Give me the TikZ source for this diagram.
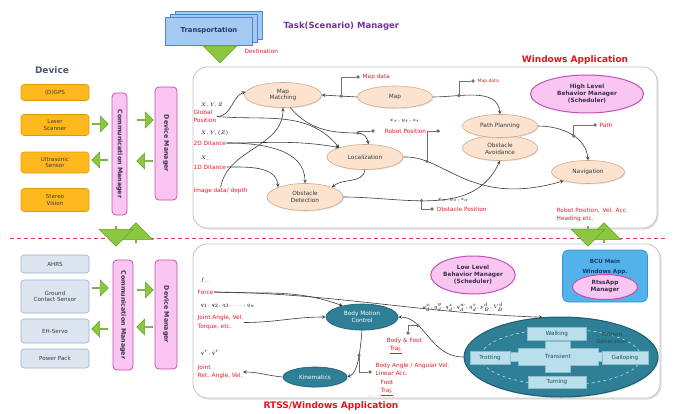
\documentclass[tikz,border=0pt]{standalone}
\usepackage{fontspec}
\setmainfont{DejaVu Sans}
\usepackage{tikz}
\usetikzlibrary{shapes,arrows,shadows}
\definecolor{lblred}{HTML}{E8192C}
\definecolor{apptitle}{HTML}{E3121C}
\definecolor{taskpurple}{HTML}{7030A0}
\definecolor{devtitle}{HTML}{4B5A70}
\definecolor{peachfill}{HTML}{FBE3D0}
\definecolor{peachline}{HTML}{D2A98A}
\definecolor{pinkfill}{HTML}{F8C6F0}
\definecolor{pinkline}{HTML}{C64FB4}
\definecolor{tealfill}{HTML}{2F7F97}
\definecolor{tealline}{HTML}{1E5E70}
\definecolor{orfill}{HTML}{FFB91E}
\definecolor{orline}{HTML}{E39A00}
\definecolor{lwfill}{HTML}{DCE5F0}
\definecolor{lwline}{HTML}{9AB1CE}
\definecolor{gaitfill}{HTML}{B9DFEA}
\definecolor{gaitline}{HTML}{86BFD0}
\definecolor{gaittext}{HTML}{1F4E5F}
\definecolor{bcufill}{HTML}{52B2EA}
\definecolor{bculine}{HTML}{3A8FCF}
\definecolor{grfill}{HTML}{8DC63F}
\definecolor{grline}{HTML}{62A32B}
\definecolor{docfill}{HTML}{A6C9F1}
\definecolor{docline}{HTML}{4F86D0}
\definecolor{doctext}{HTML}{1F3864}
\definecolor{nodetext}{HTML}{3A3A3A}
\definecolor{schedtext}{HTML}{3A2F4A}
\definecolor{linegray}{HTML}{3C3C3C}
\definecolor{dotgray}{HTML}{707070}
\definecolor{panelline}{HTML}{C4C4C4}
\newcommand{\fsz}[2]{\fontsize{#1}{#2}\selectfont}
\tikzset{
  panel/.style={draw=panelline, fill=white, rounded corners=14pt, line width=0.8pt,
    drop shadow={opacity=0.25, shadow xshift=1.5pt, shadow yshift=-1.5pt}},
  proc/.style={ellipse, draw=peachline, fill=peachfill, line width=0.6pt, inner sep=0pt,
    align=center, text=nodetext, font=\fsz{5.8}{6.8},
    drop shadow={opacity=0.2, shadow xshift=1pt, shadow yshift=-1pt}},
  tproc/.style={ellipse, draw=tealline, fill=tealfill, line width=0.6pt, inner sep=0pt,
    align=center, text=white, font=\fsz{5.8}{6.8},
    drop shadow={opacity=0.2, shadow xshift=1pt, shadow yshift=-1pt}},
  sched/.style={ellipse, draw=pinkline, fill=pinkfill, line width=1pt, inner sep=0pt,
    align=center, text=schedtext, font=\bfseries\fsz{5.8}{7}},
  hwbox/.style={rectangle, rounded corners=3pt, draw=orline, fill=orfill, line width=0.6pt,
    minimum width=68pt, inner sep=0pt, align=center, text=nodetext, font=\fsz{5.6}{6.8}},
  lwbox/.style={hwbox, draw=lwline, fill=lwfill},
  mgrbar/.style={rectangle, rounded corners=4pt, draw=pinkline, fill=pinkfill, line width=0.8pt,
    rotate=-90, inner sep=0pt, text=schedtext, font=\bfseries\fsz{6.3}{7}},
  docbox/.style={rectangle, draw=docline, fill=docfill, minimum width=87pt, minimum height=28pt,
    text=doctext, font=\bfseries\fsz{6.8}{8}},
  bcubox/.style={rectangle, rounded corners=6pt, draw=bculine, fill=bcufill, line width=0.6pt},
  pgell/.style={ellipse, draw=tealline, fill=tealfill, line width=1pt,
    drop shadow={opacity=0.25, shadow xshift=1pt, shadow yshift=-1pt}},
  pgdash/.style={draw=gaitfill, dashed, line width=0.6pt},
  gaitbox/.style={rectangle, draw=gaitline, fill=gaitfill, line width=0.6pt, inner sep=0pt,
    text=gaittext, font=\fsz{5.6}{6}},
  garrow/.style={single arrow, draw=grline, fill=grfill, line width=0.5pt, inner sep=0pt,
    minimum height=16pt, minimum width=16pt, single arrow head extend=3pt},
  biggarrow/.style={garrow, minimum height=20pt, minimum width=34pt, single arrow head extend=8pt},
  lbl/.style={text=lblred, font=\fsz{5.8}{8.5}, inner sep=0.5pt, align=left},
  mth/.style={font=\fsz{5.5}{6}, inner sep=0.5pt},
  tapdot/.style={circle, fill=dotgray, inner sep=0pt, minimum size=3.6pt},
  arr/.style={draw=linegray, line width=0.6pt, ->, >=stealth},
  tap/.style={draw=dotgray, line width=0.6pt},
  reddash/.style={draw=lblred!85, dashed, dash pattern=on 4pt off 3pt, line width=1pt}
}

\begin{document}
\begin{tikzpicture}[x=1pt,y=1pt]
\useasboundingbox (0,0) rectangle (674,413);

% task manager
\node[docbox] (trans3) at (219,388) {};
\node[docbox] (trans2) at (214,385) {};
\node[docbox] (trans) at (209,382) {Transportation};
\node[font=\bfseries\fsz{8.5}{10}, text=taskpurple, anchor=west] (tasktitle) at (280,387) {Task(Scenario) Manager};
\node[biggarrow, minimum height=17pt, shape border rotate=270] (destarr) at (220,359) {};
\node[lbl, anchor=west] (dest) at (244,362) {Destination};

% titles
\node[font=\bfseries\fsz{9}{10}, text=devtitle] (devtitle) at (52,343) {Device};
\node[font=\bfseries\fsz{9}{10}, text=apptitle] (wintitle) at (575,353) {Windows Application};
\node[font=\bfseries\fsz{9}{10}, text=apptitle] (rtsstitle) at (331,7) {RTSS/Windows Application};

% panels and border
\draw[panel] (193,185) rectangle (657,346);
\draw[panel] (193,15) rectangle (660,169);
\draw[reddash] (10,175) -- (666,175);

% upper devices
\node[hwbox, minimum height=16pt] (gps) at (55,320.5) {(D)GPS};
\node[hwbox, minimum height=21pt] (laser) at (55,288) {Laser\\Scanner};
\node[hwbox, minimum height=21pt] (sonic) at (55,250.5) {Ultrasonic\\Sensor};
\node[hwbox, minimum height=23pt] (stereo) at (55,213) {Stereo\\Vision};
\node[mgrbar, minimum width=122pt, minimum height=15pt] (comm1) at (119.5,259) {Communication Manager};
\node[mgrbar, minimum width=113pt, minimum height=22pt] (devm1) at (166,269.5) {Device Manager};
\node[garrow] (ga1) at (100,289) {};
\node[garrow, shape border rotate=180] (ga2) at (100,253) {};
\node[garrow] (ga3) at (145,293) {};
\node[garrow, shape border rotate=180] (ga4) at (145,252) {};

% lower devices
\node[lwbox, minimum height=18pt] (ahrs) at (55,149) {AHRS};
\node[lwbox, minimum height=33pt] (gcs) at (55,116.5) {Ground\\Contact Sensor};
\node[lwbox, minimum height=24pt] (servo) at (55,82) {EH-Servo};
\node[lwbox, minimum height=19pt] (power) at (55,54.5) {Power Pack};
\node[mgrbar, minimum width=110pt, minimum height=20pt] (comm2) at (123,98) {Communication Manager};
\node[mgrbar, minimum width=109pt, minimum height=22pt] (devm2) at (166,98.5) {Device Manager};
\node[garrow] (ga5) at (100,125) {};
\node[garrow, shape border rotate=180] (ga6) at (100,84) {};
\node[garrow] (ga7) at (145,123) {};
\node[garrow, shape border rotate=180] (ga8) at (145,86) {};

% links across the border
\node[biggarrow, shape border rotate=90] (gup1) at (136,180) {};
\node[biggarrow, shape border rotate=270] (gdn1) at (116,177) {};
\node[biggarrow, shape border rotate=90] (gup2) at (604,180) {};
\node[biggarrow, shape border rotate=270] (gdn2) at (588,177) {};

% windows application
\node[proc, minimum width=75pt, minimum height=25pt] (oa) at (500,265) {\\Obstacle\\Avoidance};
\node[proc, minimum width=75pt, minimum height=23pt] (pp) at (500,287) {Path Planning};
\node[proc, minimum width=77pt, minimum height=25pt] (mm) at (283,318) {Map\\Matching};
\node[proc, minimum width=75pt, minimum height=22pt] (mapn) at (395,316) {Map};
\node[proc, minimum width=76pt, minimum height=25pt] (loc) at (365,256) {Localization};
\node[proc, minimum width=76pt, minimum height=27pt] (od) at (305,216) {Obstacle\\Detection};
\node[proc, minimum width=73pt, minimum height=23pt] (nav) at (588,241) {Navigation};
\node[sched, minimum width=113pt, minimum height=38pt] (hlbm) at (587,319) {High Level\\Behavior Manager\\(Scheduler)};

\node[tapdot] (md1dot) at (358,336) {};
\node[lbl, anchor=west] (md1) at (362,336) {Map data};
\node[tapdot] (md2dot) at (473,332) {};
\node[lbl, anchor=west, font=\fsz{4.5}{5}] (md2) at (477,332) {Map data};
\node[tapdot] (pathdot) at (595,288) {};
\node[lbl, anchor=west] (path) at (599,288) {Path};
\node[tapdot] (rp1dot) at (373,282) {};
\node[tapdot] (rp2dot) at (438,282) {};
\node[lbl] (rp) at (405.5,282) {Robot Position};
\node[mth] (rpm) at (405,292) {$x_r,y_r,z_r$};
\node[tapdot] (opdot) at (432,204) {};
\node[lbl, anchor=west] (op) at (436,204) {Obstacle Position};
\node[mth] (opm) at (453,213) {$x_o,y_o,z_o$};

\node[mth, anchor=west] (gpm) at (200,308) {$X,Y,Z$};
\node[lbl, anchor=west] (gp) at (193,296.5) {Global\\Position};
\node[mth, anchor=west] (d2m) at (200,280) {$X,Y,(Z)$};
\node[lbl, anchor=west] (d2) at (193,270) {2D Ditance};
\node[mth, anchor=west] (d1m) at (200,255) {$X_{\dots}$};
\node[lbl, anchor=west] (d1) at (193,246) {1D Ditance};
\node[lbl, anchor=west] (img) at (193,222) {Image data/ depth};
\node[lbl, anchor=west] (rpv) at (556,198) {Robot Position,\enspace Vel. Acc\\Heading etc.};

\draw[arr] (mapn.west) -- coordinate[pos=0.45] (jmd1) (mm.east);
\draw[tap] (jmd1) |- (md1dot.west);
\draw[arr] (mapn.east) to[out=0,in=95] coordinate[pos=0.3] (jmd2) (pp.north);
\draw[tap] (jmd2) |- (md2dot.west);
\draw[arr] (pp.east) to[out=0,in=95] coordinate[pos=0.55] (jpath) (nav.north);
\draw[tap] (jpath) |- (pathdot.west);
\coordinate (jrp) at (358,280);
\draw[arr] (mm.-60) to[out=-50,in=180] (jrp) to[out=0,in=100] (loc.75);
\draw[tap] (jrp) |- (rp1dot.west);
\draw[arr] (loc.east) .. controls (445,258) and (470,205) .. (nav.200) coordinate[pos=0.2] (jloc);
\draw[tap] (rp2dot.east) -| (jloc);
\draw[arr] (od.east) to[out=0,in=-115] coordinate[pos=0.42] (jod) (oa.south);
\draw[tap] (jod) |- (opdot.west);
\draw[arr] (gp.east) to[out=0,in=-160] (mm.175);
\draw[arr] (gp.east) to[out=-5,in=130] (loc.160);
\draw[arr] (d2.east) to[out=0,in=170] (loc.160);
\draw[arr] (d2.east) to[out=0,in=90] (od.north);
\draw[arr] (d1.east) to[out=0,in=95] (od.160);
\draw[arr] (img.north) to[out=80,in=-90] (mm.south);
\draw[arr] (loc.south) to[out=-100,in=40] (od.20);
\foreach \j in {jmd1,jmd2,jpath,jrp,jloc,jod}
  \fill[dotgray] (\j) circle (1.8pt);

% rtss application
\node[sched, minimum width=82pt, minimum height=38pt] (llbm) at (473,138) {Low Level\\Behavior Manager\\(Scheduler)};
\node[bcubox, minimum width=85pt, minimum height=52pt] (bcu) at (605,137) {};
\node[font=\bfseries\fsz{5.6}{9.5}, text=doctext, align=center] (bcutitle) at (605,146) {BCU Main\\Windows App.};
\node[sched, minimum width=65pt, minimum height=25pt] (rtss) at (605,126) {RtssApp\\Manager};

\node[pgell, minimum width=194pt, minimum height=80pt] (pg) at (561,56) {};
\draw[pgdash] (pg.center) ellipse (80pt and 28pt);
\draw[draw=gaitline, fill=gaitfill, line width=0.6pt] (508,52) -- (518,52) -- (518,48) -- (545,48) -- (545,41)
  -- (570,41) -- (570,48) -- (598,48) -- (598,52) -- (602,52) -- (602,61) -- (598,61) -- (598,65)
  -- (570,65) -- (570,72) -- (545,72) -- (545,65) -- (518,65) -- (518,61) -- (508,61) -- cycle;
\node[font=\fsz{5.6}{6}, text=gaittext] (transient) at (558,56.5) {Transient};
\node[gaitbox, minimum width=59pt, minimum height=13pt] (walk) at (557,79) {Walking};
\node[gaitbox, minimum width=40pt, minimum height=13pt] (trot) at (490,55) {Trotting};
\node[gaitbox, minimum width=46pt, minimum height=13pt] (gallop) at (625,55) {Galloping};
\node[gaitbox, minimum width=58pt, minimum height=12pt] (turn) at (557,31) {Turning};
\node[font=\fsz{5.6}{6.5}, text=gaittext, align=center] (pgtxt) at (612,75) {Pattern\\Generation};

\node[tproc, minimum width=72pt, minimum height=26pt] (bmc) at (362,96) {Body Motion\\Control};
\node[tproc, minimum width=64pt, minimum height=20pt] (kin) at (315,36) {Kinematics};

\node[mth, anchor=west] (fm) at (200,133) {$f_{\dots}$};
\node[lbl, anchor=west] (force) at (197,121) {Force};
\node[mth, anchor=west] (qm) at (200,107) {$q_1,q_2,q_3,\dots,q_n$};
\node[lbl, anchor=west] (jt) at (197,90.5) {Joint Angle, Vel.\\Torque, etc.};
\node[mth, anchor=west] (qrm) at (200,60) {$q^r,\dot{q}^r$};
\node[lbl, anchor=west] (jref) at (197,41) {Joint\\Ret. Angle, Vel.};
\node[mth] (qdm) at (463,106) {$q^x_d,q^y_d,q^z_d,q^w_d,q^s_d,p^d_B,V^d_B$};
\node[tapdot] (bfdot) at (408,80) {};
\node[lbl, anchor=north west] (bf) at (386,76) {Body \& Foot\\\hspace*{3pt}\underline{Traj.}};
\node[tapdot] (badot) at (370,41) {};
\node[lbl, anchor=north west, font=\fsz{5.8}{8.2}] (ba) at (375,50.5) {Body Angle / Angular Vel.\\Linear Acc.\\\hspace*{5pt}Foot\\\hspace*{5pt}\underline{Traj.}};

\draw[arr] (force.east) to[out=-3,in=160] (bmc.150);
\draw[arr] (force.east) .. controls (330,120) and (420,100) .. (pg.115);
\draw[arr] (jt.east) to[out=0,in=180] (bmc.west);
\draw[arr] (pg.west) .. controls (430,56) and (425,96) .. (bmc.east) coordinate[pos=0.7] (jbf);
\draw[tap] (bfdot) |- (jbf);
\draw[arr] (bmc.south) .. controls (360,60) and (358,40) .. (kin.east) coordinate[pos=0.4] (jbm);
\draw[tap] (jbm) |- (badot.west);
\draw[arr] (kin.west) to[out=175,in=0] (jref.east);
\foreach \j in {jbf,jbm}
  \fill[dotgray] (\j) circle (1.8pt);
\end{tikzpicture}
\end{document}
